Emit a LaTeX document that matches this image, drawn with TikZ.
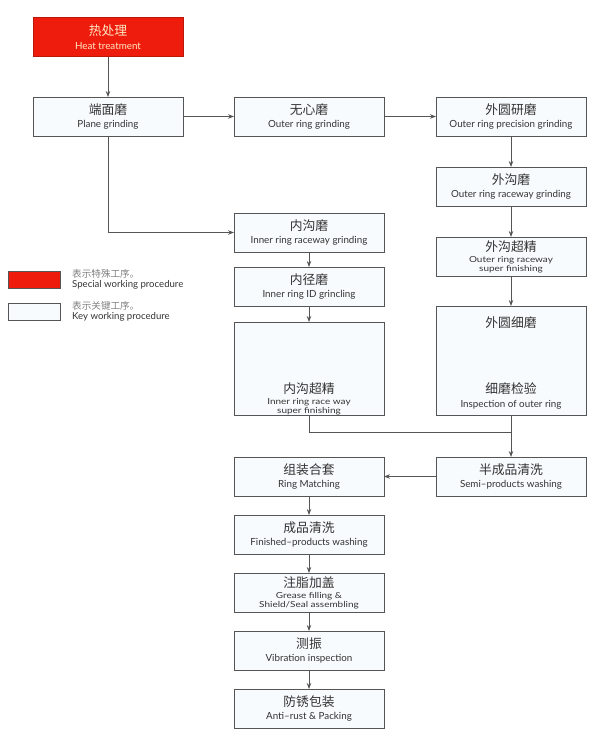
\documentclass[tikz,border=0pt]{standalone}
\usepackage{fontspec}
\setmainfont{Lato}
\newfontfamily\cjk{Noto Sans CJK SC}
\newfontfamily\widefont[FakeStretch=1.2]{Lato}
\usetikzlibrary{arrows.meta}
\definecolor{heatred}{HTML}{EE1C0C}
\definecolor{boxfill}{HTML}{F8FBFD}
\definecolor{edgegray}{HTML}{555555}
\definecolor{textgray}{HTML}{333333}
\definecolor{heattext}{HTML}{FFE8C4}
\newcommand{\cn}[1]{{\cjk\fontsize{12.8}{13}\selectfont #1}}
\newcommand{\en}[1]{{\fontsize{9.8}{11}\selectfont #1}}
\newcommand{\ens}[1]{{\widefont\fontsize{8.3}{8}\selectfont #1}}

\begin{document}
\begin{tikzpicture}[x=1pt, y=-1pt,
  proc/.style={draw=edgegray, fill=boxfill, line width=0.8pt, minimum width=150pt, minimum height=39pt, inner sep=0pt, outer sep=0pt, text=textgray, align=center, font=\fontsize{9.8}{13.5}\selectfont},
  special/.style={proc, fill=heatred, draw=heatred!80!black, text=heattext},
  tallproc/.style={proc, minimum height=#1},
  plain/.style={inner sep=0pt, text=textgray, align=center, font=\fontsize{9.8}{13.5}\selectfont},
  flow/.style={draw=edgegray, line width=0.8pt, -{Stealth[length=6pt,width=4.5pt]}},
  line/.style={draw=edgegray, line width=0.8pt},
  keybox/.style={draw=edgegray, line width=0.6pt, minimum width=52pt, minimum height=17pt, inner sep=0pt},
  keytext/.style={anchor=west, align=left, inner sep=0pt, font=\fontsize{9.6}{10.5}\selectfont}]
\useasboundingbox (0,0) rectangle (594,744);

% left column
\node [special] (heat) at (108,37) {\cn{热处理}\\\en{Heat treatment}};
\node [proc] (plane) at (108,116.5) {\cn{端面磨}\\\en{Plane grinding}};

% outer ring
\node [proc] (centerless) at (309,116.5) {\cn{无心磨}\\\en{Outer ring grinding}};
\node [proc] (precision) at (511,116.5) {\cn{外圆研磨}\\\en{Outer ring precision grinding}};
\node [proc] (outerrace) at (511,186.5) {\cn{外沟磨}\\\en{Outer ring raceway grinding}};
\node [proc] (outersuper) at (511,256.5) {\cn{外沟超精}\\[-2.5pt]\ens{Outer ring raceway}\\[-4.5pt]\ens{super finishing}};
\node [tallproc=109pt] (outerfine) at (511,360.5) {};
\node [plain] (outerfinetop) at (511,323) {\cn{外圆细磨}};
\node [plain] (outercheck) at (511,396) {\cn{细磨检验}\\\en{Inspection of outer ring}};

% inner ring
\node [proc] (innerrace) at (309,232.5) {\cn{内沟磨}\\\en{Inner ring raceway grinding}};
\node [proc] (innerid) at (309,286.5) {\cn{内径磨}\\\en{Inner ring ID grincling}};
\node [tallproc=93pt] (innersuper) at (309,368.5) {};
\node [plain] (innersupertxt) at (309,399) {\cn{内沟超精}\\[-2.5pt]\ens{Inner ring race way}\\[-4.5pt]\ens{super finishing}};

% assembly
\node [proc] (semiwash) at (511,476.5) {\cn{半成品清洗}\\\en{Semi--products washing}};
\node [proc] (matching) at (309,476.5) {\cn{组装合套}\\\en{Ring Matching}};
\node [proc] (finwash) at (309,534.5) {\cn{成品清洗}\\\en{Finished--products washing}};
\node [proc] (grease) at (309,592.5) {\cn{注脂加盖}\\[-2.5pt]\ens{Grease filling \&}\\[-4.5pt]\ens{Shield/Seal assembling}};
\node [proc] (vibration) at (309,650.5) {\cn{测振}\\\en{Vibration inspection}};
\node [proc] (packing) at (309,708.5) {\cn{防锈包装}\\\en{Anti--rust \& Packing}};

% legend
\node [keybox, fill=heatred] (keyspecial) at (34,279.5) {};
\node [keytext] (keyspecialtxt) at (72,279.5) {{\cjk\color{gray}表示特殊工序。}\\{\color{textgray}Special working procedure}};
\node [keybox, fill=boxfill] (keykey) at (34,311.5) {};
\node [keytext] (keykeytxt) at (72,311.5) {{\cjk\color{gray}表示关键工序。}\\{\color{textgray}Key working procedure}};

% connectors
\draw [flow] (heat) -- (plane);
\draw [flow] (plane) -- (centerless);
\draw [flow] (centerless) -- (precision);
\draw [flow] (precision) -- (outerrace);
\draw [flow] (outerrace) -- (outersuper);
\draw [flow] (outersuper) -- (outerfine);
\draw [flow] (plane.south) |- (innerrace.west);
\draw [flow] (innerrace) -- (innerid);
\draw [flow] (innerid) -- (innersuper);
\coordinate (merge) at (outerfine.south |- 0,432);
\draw [line] (innersuper.south) |- (merge);
\draw [flow] (outerfine.south) -- (semiwash.north);
\draw [flow] (semiwash) -- (matching);
\draw [flow] (matching) -- (finwash);
\draw [flow] (finwash) -- (grease);
\draw [flow] (grease) -- (vibration);
\draw [flow] (vibration) -- (packing);
\end{tikzpicture}
\end{document}
